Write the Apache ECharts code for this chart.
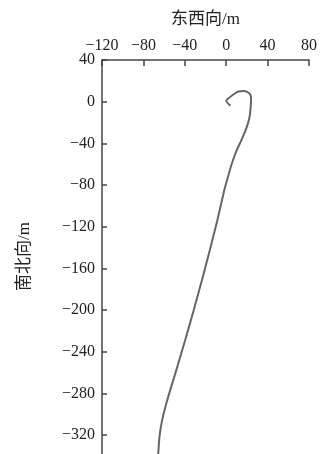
<!DOCTYPE html>
<html><head><meta charset="utf-8">
<script src="https://cdn.jsdelivr.net/npm/echarts@6/dist/echarts.min.js"></script>
<style>html,body{margin:0;padding:0;background:#fff}#c{width:320px;height:454px}</style>
</head><body><div id="c"></div>
<script>
const xTicks = [-120, -80, -40, 0, 40, 80];
const yTicks = [40, 0, -40, -80, -120, -160, -200, -240, -280, -320];
const eastWest = [4.1, 0, 2.2, 6.3, 11.1, 17.6, 22.4, 24.0, 23.6, 22.4, 19.5, 14.7, 9.4, 5.0, 1.4, -1.8, -8.5, -15.8, -23.4, -31.4, -39.6, -48.2, -56.1, -61.9, -64.5, -65.7, -66];
const northSouth = [-3.8, 0.7, 3.2, 6.4, 9.6, 10.3, 8.1, 3.6, -6.0, -15.6, -25.3, -36.8, -48.3, -60.8, -73.2, -84.7, -113.5, -142.3, -171.1, -200, -228.7, -257.5, -283.4, -305.5, -321.8, -338.2, -342];
const fmt = v => String(v).replace('-', '\u2212');
const chart = echarts.init(document.getElementById('c'));
const font = '"Liberation Serif","Noto Sans CJK SC",serif';
chart.setOption({
  animation: false,
  grid: {left: 102, right: 10, top: 60, bottom: 0},
  xAxis: {
    type: 'value', position: 'top', min: -120, max: 80, interval: 40,
    name: '东西向/m', nameLocation: 'middle', nameGap: 32,
    nameTextStyle: {fontFamily: font, fontSize: 17, color: '#222'},
    axisLine: {show: true, onZero: false, lineStyle: {color: '#444', width: 1.5}},
    axisTick: {show: true, inside: true, length: 6, lineStyle: {color: '#444', width: 1.5}},
    axisLabel: {formatter: fmt, fontFamily: font, fontSize: 16, color: '#222', margin: 6},
    splitLine: {show: false}
  },
  yAxis: {
    type: 'value', min: -338, max: 40,
    axisLine: {show: true, onZero: false, lineStyle: {color: '#444', width: 1.5}},
    axisTick: {show: true, inside: true, length: 5, customValues: yTicks, lineStyle: {color: '#444', width: 1.5}},
    axisLabel: {formatter: fmt, customValues: yTicks, fontFamily: font, fontSize: 16, color: '#222', margin: 7},
    splitLine: {show: false}
  },
  graphic: [{
    type: 'text', left: 16, top: 222, rotation: Math.PI / 2,
    style: {text: '南北向/m', font: '17px ' + font, fill: '#222'}
  }],
  series: [{
    type: 'line', showSymbol: false, smooth: 0.2,
    lineStyle: {color: '#666', width: 2},
    data: eastWest.map((x, i) => [x, northSouth[i]])
  }]
});
</script></body></html>
